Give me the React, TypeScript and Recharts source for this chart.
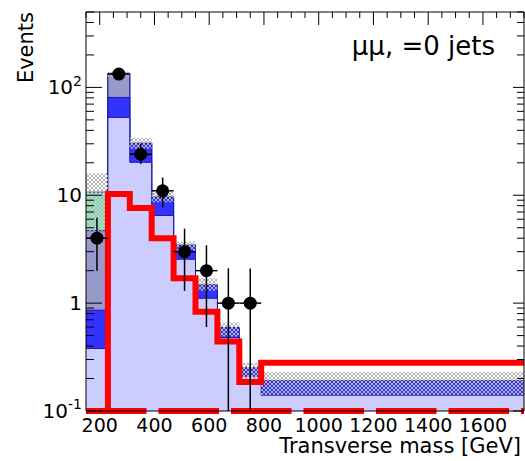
import {
  ComposedChart,
  Area,
  Line,
  Scatter,
  XAxis,
  YAxis,
  ErrorBar,
  ReferenceLine,
} from 'recharts';

const FONT = '"DejaVu Sans", Arial, sans-serif';

// bin edges [GeV]; last bin is the wide overflow bin
const binEdges = [150, 230, 310, 390, 470, 550, 630, 710, 790, 1750];

// cumulative stack tops per bin (events)
const lavenderTop = [0.38, 52.7, 20.2, 6.5, 2.55, 1.11, 0.48, 0.21, 0.14];
const blueTop = [0.86, 80.7, 30.3, 9.6, 3.44, 1.47, 0.59, 0.25, 0.19];
const greyTop = [4.7, 135, 30.3, 9.6, 3.44, 1.47, 0.59, 0.25, 0.19];
const greenTop = [10.7, 135, 30.3, 9.6, 3.44, 1.47, 0.59, 0.25, 0.19];

// background uncertainty band
const bandLow = [4.7, 125, 27, 8.6, 3.0, 1.3, 0.49, 0.19, 0.14];
const bandHigh = [16, 140, 34, 10.7, 3.7, 1.7, 0.66, 0.28, 0.23];

// signal (red step), first bin empty -> sits on the axis floor
const signal = [0.1, 10.3, 7.6, 4.0, 1.7, 0.83, 0.44, 0.186, 0.28];

// observed data
const dataX = [190, 270, 350, 430, 510, 590, 670, 750];
const dataY = [4, 133, 24, 11, 3, 2, 1, 1];
const errLow = [2.0, 11.5, 4.5, 3.3, 1.7, 1.4, 0.9, 0.9];
const errHigh = [2.2, 11.5, 6.0, 3.6, 1.9, 1.44, 1.1, 1.1];
const halfBin = 40;

const xLabels = [200, 400, 600, 800, 1000, 1200, 1400, 1600];
const xTopTicks = Array.from({ length: 33 }, (_, i) => 150 + i * 50);
const yMajor = [0.1, 1, 10, 100];
const yTicks = [
  0.1, 0.2, 0.3, 0.4, 0.5, 0.6, 0.7, 0.8, 0.9,
  1, 2, 3, 4, 5, 6, 7, 8, 9,
  10, 20, 30, 40, 50, 60, 70, 80, 90,
  100, 200, 300, 400, 500,
];

const hist = binEdges.map((x, i) => {
  const k = Math.min(i, lavenderTop.length - 1);
  return {
    x,
    lav: lavenderTop[k],
    blue: blueTop[k],
    grey: greyTop[k],
    green: greenTop[k],
    band: [bandLow[k], bandHigh[k]],
    sig: signal[k],
  };
});

const points = dataX.map((x, i) => ({
  x,
  y: dataY[i],
  ey: [errLow[i], errHigh[i]],
  ex: halfBin,
}));

function yLabel(v: number) {
  if (v === 100)
    return (
      <>
        10<tspan dy={-8} fontSize={14}>2</tspan>
      </>
    );
  if (v === 0.1)
    return (
      <>
        10<tspan dy={-9} fontSize={14}>-1</tspan>
      </>
    );
  return String(v);
}

const LeftTick = (p: any) => {
  const x = Number(p.x);
  const y = Number(p.y);
  const major = yMajor.includes(p.payload.value);
  return (
    <g>
      <line x1={x} x2={x + (major ? 16 : 8)} y1={y} y2={y} stroke="#000" strokeWidth={1} />
      {major && (
        <text x={x - 4} y={y + 7} textAnchor="end" fontFamily={FONT} fontSize={20} fill="#000">
          {yLabel(p.payload.value)}
        </text>
      )}
    </g>
  );
};

const RightTick = (p: any) => {
  const x = Number(p.x);
  const y = Number(p.y);
  const major = yMajor.includes(p.payload.value);
  return <line x1={x} x2={x - (major ? 11 : 7)} y1={y} y2={y} stroke="#000" strokeWidth={1} />;
};

const TopTick = (p: any) => {
  const x = Number(p.x);
  const y = Number(p.y);
  const major = p.payload.value % 200 === 0;
  return <line x1={x} x2={x} y1={y} y2={y + (major ? 13 : 6)} stroke="#000" strokeWidth={1} />;
};

const BottomTick = (p: any) => (
  <text x={Number(p.x)} y={Number(p.y) + 21} textAnchor="middle" fontFamily={FONT}
    fontSize={19} fill="#000">
    {p.payload.value}
  </text>
);

const Dot = ({ cx, cy }: any) => <circle cx={cx} cy={cy} r={6.5} fill="#000" />;

export default function App() {
  return (
    <div style={{ position: 'absolute', left: 0, top: 0 }}>
      <ComposedChart
        width={525}
        height={461}
        data={hist}
        margin={{ top: 11, right: 0, bottom: 0, left: 0 }}
      >
        <defs>
          <pattern id="hatch" width="4" height="4" patternUnits="userSpaceOnUse">
            <path d="M0,0 L4,4 M4,0 L0,4 M-1,3 L1,5 M3,-1 L5,1 M-1,1 L1,-1 M3,5 L5,3"
              stroke="#b4b4b4" strokeWidth={1} />
          </pattern>
        </defs>

        <XAxis
          xAxisId="b"
          dataKey="x"
          type="number"
          domain={[150, 1750]}
          allowDataOverflow
          ticks={xLabels}
          interval={0}
          height={50}
          tickSize={0}
          tickMargin={0}
          tickLine={false}
          axisLine={{ stroke: '#000' }}
          tick={(p: any) => <BottomTick {...p} />}
        />
        <XAxis
          xAxisId="t"
          dataKey="x"
          type="number"
          orientation="top"
          domain={[150, 1750]}
          allowDataOverflow
          ticks={xTopTicks}
          interval={0}
          height={1}
          tickSize={0}
          tickMargin={0}
          tickLine={false}
          axisLine={{ stroke: '#000' }}
          tick={(p: any) => <TopTick {...p} />}
        />
        <YAxis
          yAxisId="l"
          scale="log"
          type="number"
          domain={[0.1, 500]}
          allowDataOverflow
          ticks={yTicks}
          interval={0}
          width={86}
          tickSize={0}
          tickMargin={0}
          tickLine={false}
          axisLine={{ stroke: '#000' }}
          tick={(p: any) => <LeftTick {...p} />}
        />
        <YAxis
          yAxisId="r"
          orientation="right"
          scale="log"
          type="number"
          domain={[0.1, 500]}
          allowDataOverflow
          ticks={yTicks}
          interval={0}
          width={1}
          tickSize={0}
          tickMargin={0}
          tickLine={false}
          axisLine={{ stroke: '#000' }}
          tick={(p: any) => <RightTick {...p} />}
        />

        <Area xAxisId="b" yAxisId="l" type="stepAfter" dataKey="green" baseValue="dataMin"
          fill="#88f5c4" fillOpacity={1} stroke="#1a1aa0" strokeWidth={1} isAnimationActive={false} />
        <Area xAxisId="b" yAxisId="l" type="stepAfter" dataKey="grey" baseValue="dataMin"
          fill="#9999cc" fillOpacity={1} stroke="#1a1aa0" strokeWidth={1} isAnimationActive={false} />
        <Area xAxisId="b" yAxisId="l" type="stepAfter" dataKey="blue" baseValue="dataMin"
          fill="#3333ff" fillOpacity={1} stroke="#1a1aa0" strokeWidth={1} isAnimationActive={false} />
        <Area xAxisId="b" yAxisId="l" type="stepAfter" dataKey="lav" baseValue="dataMin"
          fill="#ccccff" fillOpacity={1} stroke="#1a1aa0" strokeWidth={1} isAnimationActive={false} />
        <Area xAxisId="b" yAxisId="l" type="stepAfter" dataKey="band"
          fill="url(#hatch)" fillOpacity={1} stroke="none" isAnimationActive={false} />

        <Line xAxisId="b" yAxisId="l" type="stepAfter" dataKey="sig" stroke="#ff0000"
          strokeWidth={6} strokeLinejoin="miter" dot={false} isAnimationActive={false} />
        {/* invisible series so the mirrored top/right frame axes are active */}
        <Line xAxisId="t" yAxisId="r" type="stepAfter" dataKey="sig" stroke="none"
          dot={false} activeDot={false} isAnimationActive={false} />

        <ReferenceLine xAxisId="b" yAxisId="l" y={0.1} stroke="#ff0000" strokeWidth={6}
          strokeDasharray="60.5 12" />

        <Scatter xAxisId="b" yAxisId="l" data={points} dataKey="y" shape={<Dot />}
          isAnimationActive={false}>
          <ErrorBar dataKey="ey" direction="y" width={0} stroke="#000" strokeWidth={1.5}
            isAnimationActive={false} />
          <ErrorBar dataKey="ex" direction="x" width={0} stroke="#000" strokeWidth={1.5}
            isAnimationActive={false} />
        </Scatter>

        <text transform="translate(33,12) rotate(-90)" textAnchor="end" fontFamily={FONT}
          fontSize={21} fill="#000">
          Events
        </text>
        <text x={495} y={55} textAnchor="end" fontFamily={FONT} fontSize={26} fill="#000">
          μμ, =0 jets
        </text>
        <text x={521} y={453} textAnchor="end" fontFamily={FONT} fontSize={21} fill="#000">
          Transverse mass [GeV]
        </text>
      </ComposedChart>
    </div>
  );
}
